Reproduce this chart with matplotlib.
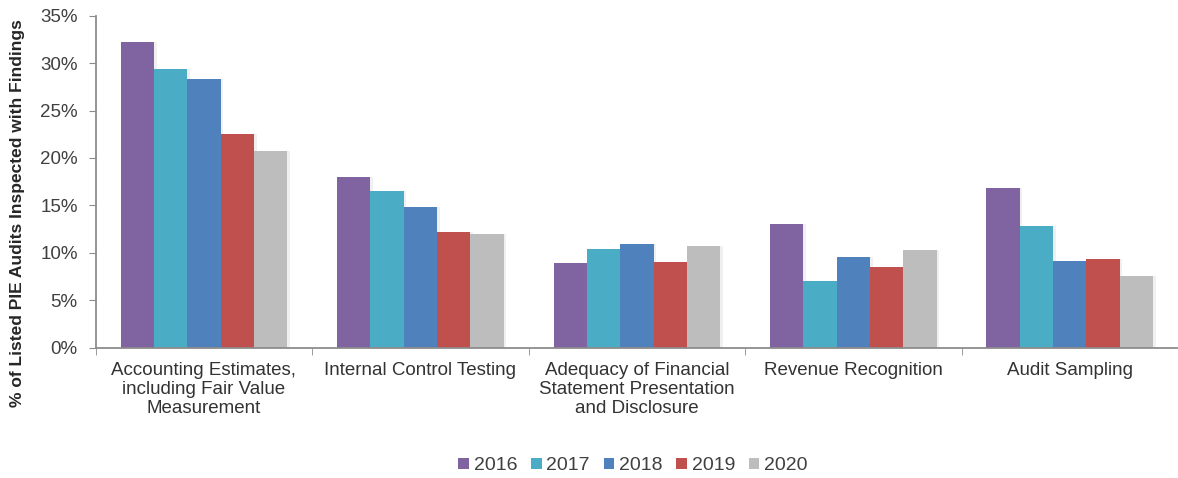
import matplotlib
matplotlib.use("Agg")
import matplotlib.pyplot as plt
import numpy as np
from matplotlib.ticker import FixedLocator, FuncFormatter

plt.rcParams['font.family'] = ['Liberation Sans', 'DejaVu Sans']

categories = ["Accounting Estimates,\nincluding Fair Value\nMeasurement",
              "Internal Control Testing",
              "Adequacy of Financial\nStatement Presentation\nand Disclosure",
              "Revenue Recognition",
              "Audit Sampling"]
years = ["2016", "2017", "2018", "2019", "2020"]
v2016 = [32.2, 18.0, 8.9, 13.0, 16.8]
v2017 = [29.4, 16.5, 10.4, 7.0, 12.8]
v2018 = [28.3, 14.8, 10.9, 9.6, 9.1]
v2019 = [22.5, 12.2, 9.0, 8.5, 9.3]
v2020 = [20.7, 12.0, 10.7, 10.3, 7.6]
series = [v2016, v2017, v2018, v2019, v2020]
colors = ["#8064A2", "#4BACC6", "#4F81BD", "#C0504D", "#BDBDBD"]

W, H = 1178, 478
fig = plt.figure(figsize=(W/100, H/100), dpi=100)
left = 95.7 / W
bottom = 1 - 347.7 / H
top = 1 - 15.7 / H
ax = fig.add_axes([left, bottom, 1 - left, top - bottom])

x = np.arange(len(categories))
bw = 0.154
n = len(series)
for i, (vals, c, yr) in enumerate(zip(series, colors, years)):
    offs = (i - (n - 1) / 2) * bw
    ax.bar(x + offs + 0.012, vals, bw, color="#000000", alpha=0.06, zorder=1)
    ax.bar(x + offs, vals, bw, color=c, label=yr, zorder=2)

axis_c = "#8C8C8C"
ax.set_ylim(0, 35)
ax.set_xlim(-0.5, 4.5 - (1187 - 1178) / 218.3)
ax.yaxis.set_major_locator(FixedLocator(np.arange(0, 36, 5)))
ax.yaxis.set_major_formatter(FuncFormatter(lambda v, p: f"{int(v)}%"))
ax.set_xticks(x)
ax.set_xticklabels(categories, fontsize=13.5, color="#333333", linespacing=1.17)
ax.set_xticks(np.arange(-0.5, 5, 1), minor=True)
ax.tick_params(axis='x', which='major', length=0, pad=10)
ax.tick_params(axis='x', which='minor', length=5, color=axis_c, direction='out')
ax.tick_params(axis='y', length=5, color=axis_c, labelsize=13.5, labelcolor="#404040", pad=8)

for s in ["top", "right"]:
    ax.spines[s].set_visible(False)
for s in ["left", "bottom"]:
    ax.spines[s].set_color(axis_c)
    ax.spines[s].set_linewidth(1.3)

fig.text(18 / W, 1 - 213 / H, "% of Listed PIE Audits Inspected with Findings",
         rotation=90, ha="center", va="center", fontsize=12.5, fontweight="bold", color="#262626")

handles, labels = ax.get_legend_handles_labels()
leg = fig.legend(handles, labels, loc="center", bbox_to_anchor=(633 / W, 1 - 466 / H),
                 ncol=5, frameon=False, fontsize=14, handlelength=0.55, handleheight=0.55,
                 handletextpad=0.25, columnspacing=0.7, labelcolor="#404040")

fig.savefig("out.png", dpi=100)
